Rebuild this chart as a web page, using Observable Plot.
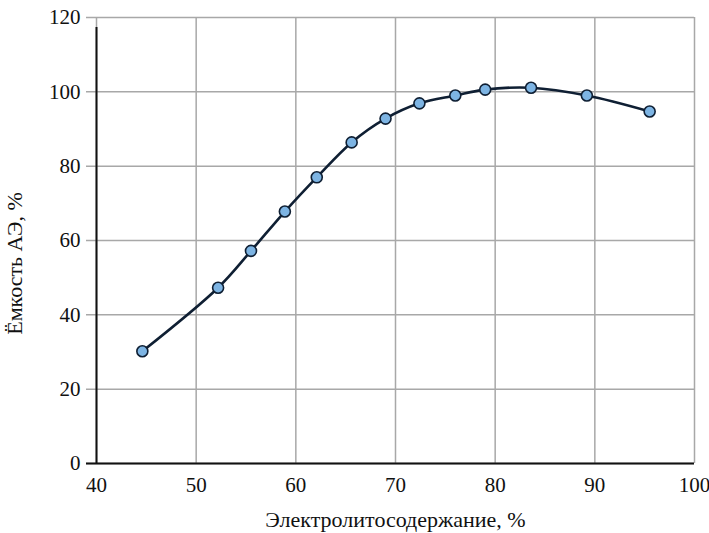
<!DOCTYPE html>
<html><head><meta charset="utf-8">
<script src="https://cdn.jsdelivr.net/npm/d3@7"></script>
<script src="https://cdn.jsdelivr.net/npm/@observablehq/plot@0.6"></script>
<style>
body{margin:0;background:#fff;}
</style></head>
<body><div id="chart"></div>
<script>
const electrolyte = [44.6, 52.2, 55.5, 58.9, 62.1, 65.6, 69.0, 72.4, 76.0, 79.0, 83.6, 89.2, 95.5];
const capacity   = [30.2, 47.3, 57.2, 67.8, 77.0, 86.4, 92.8, 96.9, 99.0, 100.6, 101.1, 99.0, 94.7];
const xTicks = [40, 50, 60, 70, 80, 90, 100];
const yTicks = [0, 20, 40, 60, 80, 100, 120];
const xLabel = "Электролитосодержание, %";
const yLabel = "Ёмкость АЭ, %";

const data = electrolyte.map((x, i) => ({x, y: capacity[i]}));
const navy = "#0f1f33";
const serif = "Liberation Serif";

const chart = Plot.plot({
  width: 709, height: 533,
  marginLeft: 96, marginRight: 15, marginTop: 17, marginBottom: 70,
  x: {domain: [40, 100], ticks: xTicks},
  y: {domain: [0, 120], ticks: yTicks},
  marks: [
    Plot.gridX(xTicks, {stroke: "#a8a8a8", strokeOpacity: 1, strokeWidth: 1.5}),
    Plot.ruleY(yTicks, {x1: 40, x2: 100, stroke: "#a8a8a8", strokeWidth: 1.5, insetLeft: -10}),
    Plot.ruleX([40], {y1: 0, y2: 120, stroke: "#111", strokeWidth: 2, insetBottom: -10}),
    Plot.ruleY([0], {x1: 40, x2: 100, stroke: "#111", strokeWidth: 2, insetLeft: -10}),
    Plot.axisX(xTicks, {tickSize: 0, tickPadding: 14, fontSize: 21, fill: "#111", label: null}),
    Plot.axisY(yTicks, {tickSize: 0, tickPadding: 16, fontSize: 21, fill: "#111", label: null}),
    Plot.text([xLabel], {frameAnchor: "bottom", dy: 63, fontSize: 22, fill: "#111"}),
    Plot.text([yLabel], {frameAnchor: "left", textAnchor: "middle", rotate: -90, dx: -82, dy: 23, fontSize: 22, fill: "#111"}),
    Plot.line(data, {x: "x", y: "y", curve: "catmull-rom", stroke: navy, strokeWidth: 2.6}),
    Plot.dot(data, {x: "x", y: "y", r: 5.5, fill: "#7db4e3", stroke: navy, strokeWidth: 1.6})
  ]
});
d3.select(chart).attr("font-family", serif).style("font-family", serif);
d3.select(chart).selectAll("g, text").attr("font-family", serif).style("font-family", serif);
document.getElementById("chart").append(chart);
</script></body></html>
